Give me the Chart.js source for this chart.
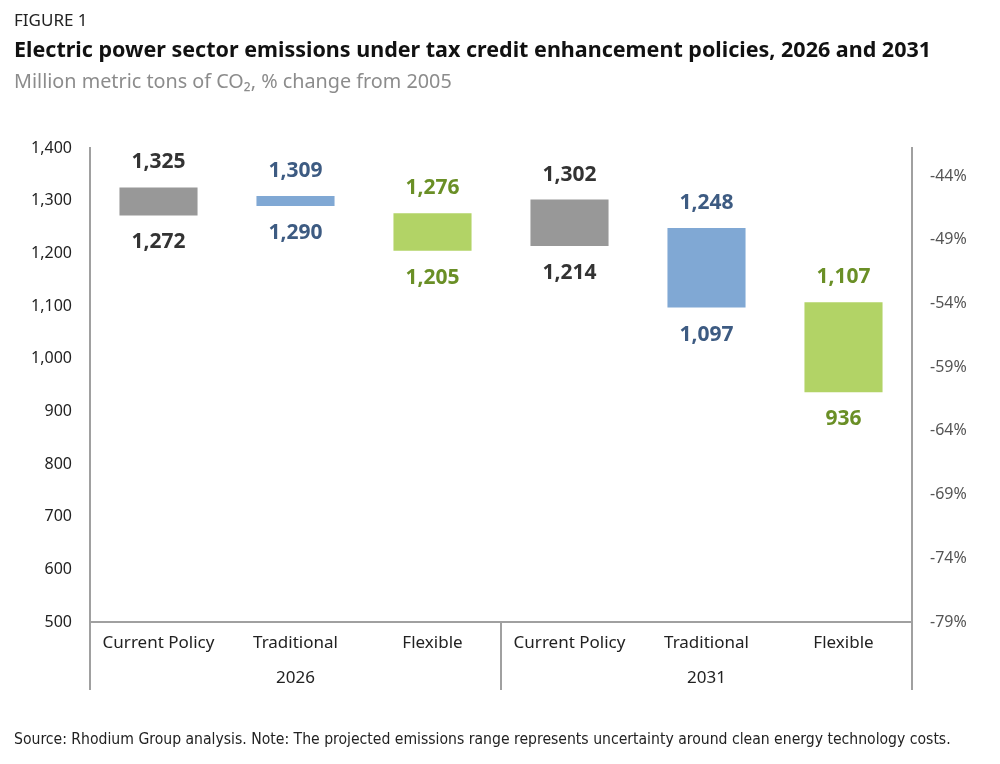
<!DOCTYPE html>
<html>
<head>
<meta charset="utf-8">
<script src="https://cdn.jsdelivr.net/npm/chart.js@4/dist/chart.umd.min.js"></script>
<style>
  body { margin: 0; background: #fff; font-family: "Noto Sans", sans-serif; }
  #wrap { position: relative; width: 1000px; height: 764px; }
  #fig { position: absolute; left: 14px; top: 8px; font-size: 17px; color: #222; }
  #title { position: absolute; left: 14px; top: 34px; font-size: 21.5px; font-weight: bold; color: #111; white-space: nowrap; }
  #sub { position: absolute; left: 14px; top: 67px; font-size: 19.8px; color: #8c8c8c; white-space: nowrap; }
  #src { position: absolute; left: 14px; top: 730px; font-size: 15.6px; color: #222; font-family: "Liberation Sans Narrow", "DejaVu Sans Condensed", sans-serif; white-space: nowrap; }
  canvas { position: absolute; left: 0; top: 0; }
</style>
</head>
<body>
<div id="wrap">
  <canvas id="chart" width="1000" height="764"></canvas>
  <div id="fig">FIGURE 1</div>
  <div id="title">Electric power sector emissions under tax credit enhancement policies, 2026 and 2031</div>
  <div id="sub">Million metric tons of CO₂, % change from 2005</div>
  <div id="src">Source: Rhodium Group analysis. Note: The projected emissions range represents uncertainty around clean energy technology costs.</div>
</div>
<script>
// data
const categories = ['Current Policy', 'Traditional', 'Flexible', 'Current Policy', 'Traditional', 'Flexible'];
const years = ['2026', '2031'];
const lowValues = [1272, 1290, 1205, 1214, 1097, 936];
const highValues = [1325, 1309, 1276, 1302, 1248, 1107];
const leftTicks = [500, 600, 700, 800, 900, 1000, 1100, 1200, 1300, 1400];
const rightTicks = [-79, -74, -69, -64, -59, -54, -49, -44];

const barColors = ['#989898', '#80a8d4', '#b2d366', '#989898', '#80a8d4', '#b2d366'];
const labelColors = ['#333333', '#3d5b82', '#6a8f26', '#333333', '#3d5b82', '#6a8f26'];
const axisGray = '#a0a0a0';

const fmt = v => v.toLocaleString('en-US');

// number labels above and below each floating bar
const rangeLabels = {
    id: 'rangeLabels',
    afterDatasetsDraw(chart) {
        const ctx = chart.ctx;
        const y = chart.scales.y;
        const meta = chart.getDatasetMeta(0);
        ctx.save();
        ctx.font = 'bold 21px "Noto Sans", sans-serif';
        ctx.textAlign = 'center';
        ctx.textBaseline = 'middle';
        meta.data.forEach((bar, i) => {
            ctx.fillStyle = labelColors[i];
            ctx.fillText(fmt(highValues[i]), bar.x, y.getPixelForValue(highValues[i]) - 25);
            ctx.fillText(fmt(lowValues[i]), bar.x, y.getPixelForValue(lowValues[i]) + 27);
        });
        ctx.restore();
    }
};

// year group labels and the separator lines under the axis
const groupAxis = {
    id: 'groupAxis',
    afterDraw(chart) {
        const ctx = chart.ctx;
        const x = chart.scales.x;
        const area = chart.chartArea;
        const bottom = area.bottom + 68;
        ctx.save();
        ctx.strokeStyle = axisGray;
        ctx.lineWidth = 2;
        const mid = (x.getPixelForValue(2) + x.getPixelForValue(3)) / 2;
        [area.left, mid, area.right].forEach(px => {
            ctx.beginPath();
            ctx.moveTo(px, area.bottom);
            ctx.lineTo(px, bottom);
            ctx.stroke();
        });
        ctx.font = '17px "Noto Sans", sans-serif';
        ctx.fillStyle = '#222';
        ctx.textAlign = 'center';
        ctx.textBaseline = 'middle';
        years.forEach((yr, g) => {
            ctx.fillText(yr, x.getPixelForValue(g * 3 + 1), area.bottom + 56);
        });
        ctx.restore();
    }
};

new Chart(document.getElementById('chart'), {
    type: 'bar',
    data: {
        labels: categories,
        datasets: [{
            data: lowValues.map((lo, i) => [lo, highValues[i]]),
            backgroundColor: barColors,
            borderWidth: 0,
            barPercentage: 0.57,
            categoryPercentage: 1
        }]
    },
    options: {
        responsive: false,
        animation: false,
        layout: { padding: { top: 148, left: 0, right: 0, bottom: 0 } },
        plugins: {
            legend: { display: false },
            tooltip: { enabled: false }
        },
        scales: {
            x: {
                grid: { display: false, drawTicks: false },
                border: { color: axisGray, width: 2 },
                ticks: { color: '#222', font: { size: 17, family: 'Noto Sans' }, padding: 11 },
                afterFit(s) { s.height = 142; }
            },
            y: {
                min: 500,
                max: 1400,
                grid: { display: false, drawTicks: false },
                border: { color: axisGray, width: 2 },
                afterBuildTicks(s) { s.ticks = leftTicks.map(v => ({ value: v })); },
                ticks: { color: '#222', font: { size: 16, family: 'Noto Sans' }, padding: 18, callback: v => fmt(v) },
                afterFit(s) { s.width = 90; }
            },
            y2: {
                position: 'right',
                min: -79,
                max: -41.8,
                grid: { display: false, drawTicks: false },
                border: { color: axisGray, width: 2 },
                afterBuildTicks(s) { s.ticks = rightTicks.map(v => ({ value: v })); },
                ticks: { color: '#555', font: { size: 16, family: 'Noto Sans' }, padding: 18, callback: v => v + '%' },
                afterFit(s) { s.width = 88; }
            }
        }
    },
    plugins: [rangeLabels, groupAxis]
});
</script>
</body>
</html>
